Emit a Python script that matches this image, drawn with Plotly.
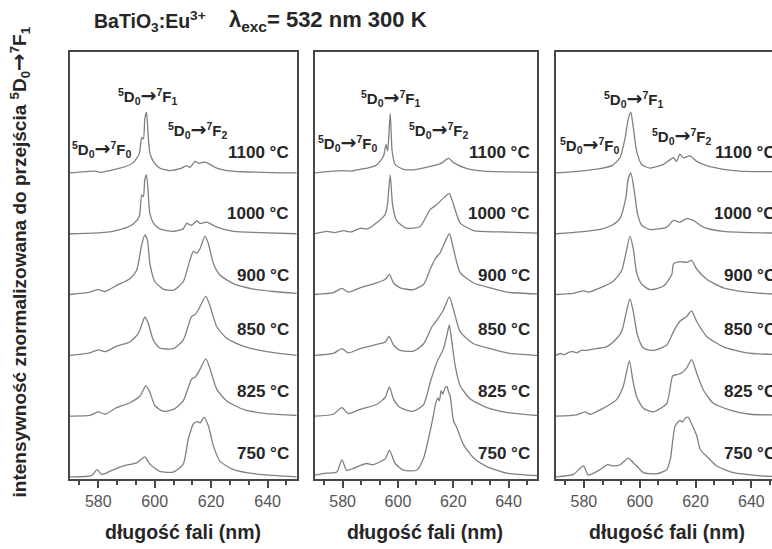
import plotly.graph_objects as go

W, H = 772, 549

# ---------------------------------------------------------------- data
temperatures = ["750", "825", "850", "900", "1000", "1100"]
offsets = [0, 1, 2, 3, 4, 5]

# panel 1
p1_750_nm = [570.0, 577.6, 579.6, 581.2, 584.1, 588.9, 593.6, 596.5, 598.3, 601.8, 606.6, 610.1, 611.9, 613.7, 615.1, 616.1, 617.5, 619.0, 620.8, 623.1, 627.9, 637.3, 650.3]
p1_750_int = [0.00, 0.02, 0.12, 0.04, 0.09, 0.18, 0.23, 0.33, 0.21, 0.09, 0.08, 0.21, 0.62, 0.87, 0.91, 0.89, 0.98, 0.84, 0.51, 0.26, 0.12, 0.04, 0.00]
p1_825_nm = [570.0, 577.0, 580.0, 582.4, 586.5, 591.2, 594.8, 596.9, 598.3, 600.1, 603.0, 606.6, 610.1, 613.1, 614.3, 615.5, 618.1, 619.6, 622.0, 625.5, 631.4, 639.7, 650.3]
p1_825_int = [0.00, 0.01, 0.07, 0.03, 0.14, 0.22, 0.33, 0.50, 0.39, 0.17, 0.08, 0.11, 0.25, 0.61, 0.64, 0.72, 0.94, 0.78, 0.44, 0.25, 0.11, 0.04, 0.01]
p1_850_nm = [570.0, 577.0, 580.0, 582.4, 586.5, 591.2, 594.2, 596.0, 596.5, 597.7, 599.5, 601.8, 606.6, 610.1, 613.1, 614.3, 615.5, 618.1, 619.6, 622.0, 625.5, 631.4, 639.7, 650.3]
p1_850_int = [0.00, 0.04, 0.09, 0.06, 0.15, 0.22, 0.36, 0.58, 0.63, 0.53, 0.25, 0.12, 0.11, 0.25, 0.64, 0.67, 0.75, 0.97, 0.81, 0.47, 0.28, 0.15, 0.06, 0.00]
p1_900_nm = [570.0, 577.0, 580.0, 582.4, 586.5, 591.2, 593.6, 595.4, 596.5, 597.4, 598.3, 600.1, 603.0, 606.6, 610.1, 612.5, 613.7, 614.9, 616.1, 617.8, 619.0, 620.8, 623.1, 627.9, 635.0, 642.1, 650.3]
p1_900_int = [0.00, 0.04, 0.08, 0.05, 0.15, 0.26, 0.40, 0.82, 0.98, 0.90, 0.51, 0.21, 0.09, 0.07, 0.21, 0.57, 0.71, 0.68, 0.76, 0.96, 0.84, 0.51, 0.32, 0.18, 0.09, 0.05, 0.02]
p1_1000_nm = [570.0, 578.2, 584.1, 587.7, 590.0, 592.4, 594.5, 595.4, 596.0, 596.5, 597.1, 597.7, 598.3, 599.5, 601.8, 606.6, 610.1, 611.3, 613.1, 614.9, 616.1, 618.4, 622.0, 627.9, 637.3, 650.3]
p1_1000_int = [0.00, 0.01, 0.03, 0.07, 0.10, 0.16, 0.28, 0.64, 0.61, 0.89, 0.97, 0.67, 0.33, 0.18, 0.08, 0.04, 0.08, 0.17, 0.14, 0.21, 0.17, 0.19, 0.11, 0.04, 0.02, 0.00]
p1_1100_nm = [570.0, 578.8, 581.2, 584.1, 587.7, 590.0, 592.4, 594.5, 595.4, 596.0, 596.5, 597.1, 597.7, 598.3, 599.5, 601.8, 605.4, 609.0, 611.3, 612.5, 614.3, 615.5, 617.8, 619.6, 622.0, 625.5, 631.4, 650.3]
p1_1100_int = [0.00, 0.03, 0.01, 0.04, 0.08, 0.11, 0.17, 0.31, 0.58, 0.56, 0.89, 1.00, 0.61, 0.33, 0.19, 0.08, 0.04, 0.07, 0.12, 0.09, 0.19, 0.16, 0.18, 0.14, 0.08, 0.04, 0.02, 0.00]

# panel 2
p2_750_nm = [570.0, 574.2, 577.9, 579.7, 581.5, 583.9, 586.0, 588.7, 591.0, 593.6, 595.5, 596.9, 599.0, 602.0, 606.8, 609.3, 611.1, 612.9, 613.5, 614.4, 615.0, 615.6, 616.2, 617.0, 617.7, 618.3, 618.9, 620.1, 621.3, 623.7, 627.4, 632.2, 639.4, 650.3]
p2_750_int = [0.03, 0.06, 0.08, 0.28, 0.11, 0.14, 0.18, 0.22, 0.20, 0.25, 0.30, 0.44, 0.22, 0.11, 0.11, 0.31, 0.64, 1.03, 1.18, 1.30, 1.25, 1.42, 1.36, 1.46, 1.49, 1.40, 1.33, 0.92, 0.81, 0.53, 0.31, 0.17, 0.06, 0.02]
p2_825_nm = [570.0, 576.6, 579.7, 582.1, 586.3, 592.3, 595.4, 596.9, 598.4, 600.8, 605.6, 609.3, 611.7, 614.1, 616.5, 617.7, 618.6, 619.5, 620.7, 622.5, 626.2, 632.2, 639.4, 650.3]
p2_825_int = [0.00, 0.03, 0.14, 0.04, 0.11, 0.19, 0.31, 0.48, 0.28, 0.14, 0.08, 0.19, 0.56, 0.89, 1.11, 1.33, 1.50, 1.22, 0.83, 0.50, 0.28, 0.14, 0.06, 0.01]
p2_850_nm = [570.0, 576.6, 579.7, 582.1, 586.3, 592.3, 595.4, 596.8, 598.4, 600.8, 605.6, 609.3, 612.3, 614.1, 616.5, 618.6, 620.1, 622.5, 627.4, 633.4, 639.4, 650.3]
p2_850_int = [0.00, 0.03, 0.11, 0.04, 0.11, 0.18, 0.22, 0.31, 0.17, 0.08, 0.07, 0.19, 0.47, 0.58, 0.75, 0.96, 0.75, 0.39, 0.19, 0.11, 0.04, 0.00]
p2_900_nm = [570.0, 576.6, 579.7, 582.1, 586.3, 592.3, 595.4, 596.9, 598.4, 600.8, 605.6, 609.3, 611.7, 613.5, 615.3, 618.6, 620.1, 622.5, 627.4, 633.4, 639.4, 650.3]
p2_900_int = [0.00, 0.03, 0.10, 0.04, 0.11, 0.19, 0.25, 0.33, 0.19, 0.11, 0.08, 0.17, 0.42, 0.59, 0.69, 1.00, 0.75, 0.36, 0.19, 0.11, 0.04, 0.01]
p2_1000_nm = [570.0, 574.2, 577.0, 580.3, 583.0, 586.3, 589.0, 592.3, 595.4, 596.2, 597.2, 598.1, 599.6, 603.2, 608.0, 611.7, 614.1, 616.5, 618.6, 620.1, 622.5, 627.4, 637.0, 650.3]
p2_1000_int = [0.00, 0.04, 0.02, 0.05, 0.03, 0.09, 0.08, 0.18, 0.32, 0.48, 0.97, 0.46, 0.21, 0.09, 0.12, 0.40, 0.48, 0.59, 0.66, 0.48, 0.18, 0.05, 0.03, 0.01]
p2_1100_nm = [570.0, 576.6, 580.3, 583.0, 586.3, 589.0, 592.3, 594.8, 595.7, 596.3, 597.2, 597.9, 599.0, 602.0, 606.8, 611.7, 615.3, 618.3, 620.1, 625.0, 631.0, 650.3]
p2_1100_int = [0.00, 0.03, 0.04, 0.03, 0.06, 0.08, 0.13, 0.28, 0.47, 0.36, 0.98, 0.36, 0.14, 0.06, 0.06, 0.11, 0.15, 0.24, 0.17, 0.07, 0.03, 0.01]

# panel 3
p3_750_nm = [570.0, 576.2, 579.8, 581.6, 585.8, 588.5, 590.5, 593.0, 595.9, 597.7, 599.5, 601.3, 606.1, 609.7, 611.0, 612.7, 614.4, 615.3, 616.2, 617.4, 618.6, 620.4, 621.6, 622.8, 624.0, 627.6, 633.6, 645.5, 650.3]
p3_750_int = [0.00, 0.04, 0.18, 0.03, 0.12, 0.20, 0.18, 0.20, 0.31, 0.23, 0.15, 0.07, 0.05, 0.12, 0.30, 0.84, 0.93, 0.90, 0.96, 0.98, 0.87, 0.68, 0.46, 0.39, 0.34, 0.18, 0.07, 0.01, 0.01]
p3_825_nm = [570.0, 577.4, 580.4, 582.2, 587.0, 591.7, 594.1, 596.3, 597.5, 598.9, 601.3, 604.9, 609.7, 611.8, 613.2, 615.0, 616.8, 618.6, 620.4, 622.8, 626.4, 632.4, 639.5, 650.3]
p3_825_int = [0.00, 0.02, 0.07, 0.03, 0.13, 0.27, 0.49, 0.91, 0.60, 0.32, 0.13, 0.07, 0.21, 0.66, 0.68, 0.71, 0.79, 0.93, 0.71, 0.43, 0.21, 0.10, 0.03, 0.02]
p3_850_nm = [570.0, 571.5, 573.0, 574.5, 576.2, 577.5, 579.0, 581.0, 583.0, 585.8, 588.0, 590.5, 593.5, 595.1, 596.5, 597.7, 599.2, 601.3, 604.9, 609.7, 612.1, 614.4, 616.8, 618.6, 620.4, 624.0, 630.0, 638.3, 650.3]
p3_850_int = [0.00, 0.03, 0.01, 0.05, 0.06, 0.04, 0.08, 0.08, 0.10, 0.12, 0.14, 0.22, 0.39, 0.69, 0.93, 0.72, 0.33, 0.12, 0.08, 0.17, 0.39, 0.56, 0.64, 0.73, 0.56, 0.31, 0.14, 0.04, 0.01]
p3_900_nm = [570.0, 576.2, 579.8, 581.6, 585.8, 590.5, 593.5, 595.1, 596.5, 597.7, 598.9, 600.7, 603.7, 608.5, 611.5, 612.1, 614.4, 616.8, 618.6, 620.4, 624.0, 630.0, 638.3, 650.3]
p3_900_int = [0.00, 0.02, 0.06, 0.04, 0.11, 0.22, 0.39, 0.69, 0.96, 0.75, 0.36, 0.17, 0.08, 0.14, 0.33, 0.50, 0.54, 0.53, 0.56, 0.42, 0.25, 0.11, 0.04, 0.00]
p3_1000_nm = [570.0, 578.6, 585.8, 590.0, 592.9, 595.1, 595.8, 596.8, 598.0, 599.2, 600.7, 603.7, 609.7, 612.1, 614.4, 616.8, 619.2, 622.8, 630.0, 650.3]
p3_1000_int = [0.00, 0.03, 0.07, 0.14, 0.25, 0.61, 0.89, 1.00, 0.72, 0.33, 0.14, 0.07, 0.11, 0.22, 0.19, 0.25, 0.22, 0.11, 0.04, 0.01]
p3_1100_nm = [570.0, 578.6, 585.8, 590.0, 592.9, 594.7, 595.9, 596.8, 597.7, 598.9, 600.7, 603.7, 608.5, 612.1, 613.2, 614.4, 615.6, 618.0, 620.4, 624.0, 630.0, 635.9, 650.3]
p3_1100_int = [0.00, 0.03, 0.07, 0.12, 0.25, 0.56, 0.89, 1.00, 0.75, 0.36, 0.14, 0.08, 0.14, 0.25, 0.19, 0.31, 0.25, 0.28, 0.19, 0.12, 0.06, 0.03, 0.02]

x_ticks = [580, 600, 620, 640]

# ---------------------------------------------------------------- layout constants
FONT = "Liberation Sans, Arial, Helvetica, sans-serif"
LINE_GREY = "#808080"
FRAME = "#474747"
TEXT = "#262626"

# panel boxes in pixels: (left, right); the third box runs past the page edge
panel_px = [(70, 296.7), (315, 537), (556, 772)]
panel_range = [(570, 650.3), (570, 650.3), (570, 647.4)]
label_right_px = [291, 532, 778]
top_px, bottom_px = 52, 479
y_range = [-0.035, 6.99]
label_lift = [0.39, 0.41, 0.42, 0.32, 0.34, 0.33]

panels = [
    [(p1_750_nm, p1_750_int), (p1_825_nm, p1_825_int), (p1_850_nm, p1_850_int),
     (p1_900_nm, p1_900_int), (p1_1000_nm, p1_1000_int), (p1_1100_nm, p1_1100_int)],
    [(p2_750_nm, p2_750_int), (p2_825_nm, p2_825_int), (p2_850_nm, p2_850_int),
     (p2_900_nm, p2_900_int), (p2_1000_nm, p2_1000_int), (p2_1100_nm, p2_1100_int)],
    [(p3_750_nm, p3_750_int), (p3_825_nm, p3_825_int), (p3_850_nm, p3_850_int),
     (p3_900_nm, p3_900_int), (p3_1000_nm, p3_1000_int), (p3_1100_nm, p3_1100_int)],
]


def px_x(px):
    return px / W


def px_y(py):
    return 1 - py / H


fig = go.Figure()

for k, spectra in enumerate(panels):
    xa = "x" if k == 0 else f"x{k + 1}"
    ya = "y" if k == 0 else f"y{k + 1}"
    for (nm, inten), off, t in zip(spectra, offsets, temperatures):
        fig.add_trace(go.Scatter(
            x=nm, y=[off + v for v in inten], xaxis=xa, yaxis=ya,
            mode="lines", name=f"{t} °C",
            line=dict(color=LINE_GREY, width=1.3, shape="spline", smoothing=0.6),
            showlegend=False, hoverinfo="skip",
        ))

axis_common_x = dict(
    showline=True, linecolor=FRAME, linewidth=2, mirror=True,
    ticks="outside", ticklen=7, tickwidth=1.5, tickcolor=FRAME,
    tickvals=x_ticks, ticktext=[str(v) for v in x_ticks],
    tickfont=dict(family=FONT, size=16, color="#555555"),
    minor=dict(ticks="outside", ticklen=4, tickwidth=1.5, tickcolor=FRAME,
               tick0=580, dtick=20 / 3),
    showgrid=False, zeroline=False, fixedrange=True,
)

layout = dict(
    width=W, height=H,
    margin=dict(l=0, r=0, t=0, b=0, pad=0),
    paper_bgcolor="white", plot_bgcolor="white",
    showlegend=False,
)

for k in range(3):
    sx = "" if k == 0 else str(k + 1)
    left, right = panel_px[k]
    layout[f"xaxis{sx}"] = dict(
        axis_common_x,
        domain=[px_x(left), min(px_x(right), 1.0)],
        range=list(panel_range[k]),
        anchor=f"y{sx}",
    )
    layout[f"yaxis{sx}"] = dict(
        domain=[px_y(bottom_px), px_y(top_px)],
        range=y_range,
        showline=True, linecolor=FRAME, linewidth=2,
        mirror=(k < 2),
        showticklabels=False, ticks="", showgrid=False, zeroline=False,
        anchor=f"x{sx}", fixedrange=True,
    )

fig.update_layout(**layout)

annotations = []

# temperature labels beside each spectrum
for k in range(3):
    ya = "y" if k == 0 else f"y{k + 1}"
    for off, t, lift in zip(offsets, temperatures, label_lift):
        annotations.append(dict(
            text=f"<b>{t} °C</b>", xref="paper", yref=ya,
            x=px_x(label_right_px[k]), y=off + lift,
            xanchor="right", yanchor="middle", showarrow=False,
            font=dict(family=FONT, size=17, color=TEXT),
        ))


def transition(level, arrow_px=19):
    arrow = f'<span style="font-family:DejaVu Sans;font-size:{arrow_px}px">→</span>'
    return f"<b><sup>5</sup>D<sub>0</sub>{arrow}<sup>7</sup>F<sub>{level}</sub></b>"


# transition labels: (final level, centre x px, centre y px)
transition_pos = [
    [(1, 147, 96), (0, 101, 149), (2, 197, 129)],
    [(1, 390, 97), (0, 347, 142), (2, 438, 129)],
    [(1, 633, 98), (0, 589, 144), (2, 681, 135)],
]
for group in transition_pos:
    for level, cx, cy in group:
        annotations.append(dict(
            text=transition(level), xref="paper", yref="paper", x=px_x(cx), y=px_y(cy),
            xanchor="center", yanchor="middle", showarrow=False,
            font=dict(family=FONT, size=15, color=TEXT),
        ))

# x-axis titles under each panel
for cx in (182.5, 425, 667):
    annotations.append(dict(
        text="<b>długość fali (nm)</b>", xref="paper", yref="paper",
        x=px_x(cx), y=px_y(532), xanchor="center", yanchor="middle",
        showarrow=False, font=dict(family=FONT, size=19.5, color=TEXT),
    ))

# shared y-axis title
annotations.append(dict(
    text=("<b>intensywność znormalizowana do przejścia <sup>5</sup>D<sub>0</sub>"
          '<span style="font-family:DejaVu Sans;font-size:21px">→</span>'
          "<sup>7</sup>F<sub>1</sub></b>"),
    xref="paper", yref="paper", x=px_x(19.5), y=px_y(262),
    xanchor="center", yanchor="middle", textangle=-90, showarrow=False,
    font=dict(family=FONT, size=19, color=TEXT),
))

# heading
annotations.append(dict(
    text="<b>BaTiO<sub>3</sub>:Eu<sup>3+</sup></b>", xref="paper", yref="paper",
    x=px_x(92), y=px_y(21), xanchor="left", yanchor="middle", showarrow=False,
    font=dict(family=FONT, size=19.5, color=TEXT),
))
annotations.append(dict(
    text="<b>λ<sub>exc</sub>= 532 nm 300 K</b>", xref="paper", yref="paper",
    x=px_x(227), y=px_y(21), xanchor="left", yanchor="middle", showarrow=False,
    font=dict(family=FONT, size=22, color=TEXT),
))

fig.update_layout(annotations=annotations)

fig.write_html("out.html")
